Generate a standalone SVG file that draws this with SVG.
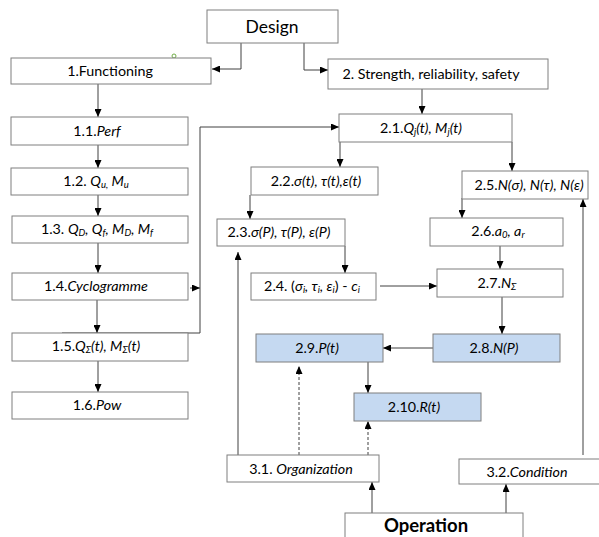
<svg xmlns="http://www.w3.org/2000/svg" width="599" height="537" viewBox="0 0 599 537">
<defs>
<style>
.box{fill:#ffffff;stroke:#7f7f7f;stroke-width:1}
.blue{fill:#c5d9f1;stroke:#7f7f7f;stroke-width:1}
.t{font-family:Lato,"Liberation Sans",sans-serif;font-size:14.3px;fill:#000;text-anchor:middle}
.i{font-style:italic}
.s{font-size:9.5px}
.c{fill:none;stroke:#404040;stroke-width:1}
.d{fill:none;stroke:#404040;stroke-width:1;stroke-dasharray:3,2}
</style>
<marker id="a" markerUnits="userSpaceOnUse" markerWidth="8" markerHeight="7" refX="8" refY="3.5" orient="auto">
<path d="M0,0 L8,3.5 L0,7 z" fill="#000"/>
</marker>
</defs>
<rect width="599" height="537" fill="#ffffff"/>

<g id="connectors">
<path class="c" d="M241,43 V69 H212" marker-end="url(#a)"/>
<path class="c" d="M304,43 V70 H328" marker-end="url(#a)"/>
<path class="c" d="M98,84 V117" marker-end="url(#a)"/>
<path class="c" d="M98,145 V168" marker-end="url(#a)"/>
<path class="c" d="M98,195 V216" marker-end="url(#a)"/>
<path class="c" d="M98,243 V273" marker-end="url(#a)"/>
<path class="c" d="M97,300 V333" marker-end="url(#a)"/>
<path class="c" d="M98,361 V392" marker-end="url(#a)"/>
<path class="c" d="M190,288 H200" marker-end="url(#a)"/>
<path class="c" d="M62,333 H200 V127 H339" marker-end="url(#a)"/>
<path class="c" d="M422,89 V114" marker-end="url(#a)"/>
<path class="c" d="M340,142 V167" marker-end="url(#a)"/>
<path class="c" d="M512,142 V171" marker-end="url(#a)"/>
<path class="c" d="M250,195 V219" marker-end="url(#a)"/>
<path class="c" d="M462,198 V218" marker-end="url(#a)"/>
<path class="c" d="M345,246 V273" marker-end="url(#a)"/>
<path class="c" d="M500,246 V269" marker-end="url(#a)"/>
<path class="c" d="M380,286 H437" marker-end="url(#a)"/>
<path class="c" d="M502,297 V334" marker-end="url(#a)"/>
<path class="c" d="M433,348 H383" marker-end="url(#a)"/>
<path class="c" d="M368,362 V393" marker-end="url(#a)"/>
<path class="c" d="M238,455 V252" marker-end="url(#a)"/>
<path class="d" d="M299,455 V366" marker-end="url(#a)"/>
<path class="d" d="M368,455 V421" marker-end="url(#a)"/>
<path class="c" d="M583,455 V199" marker-end="url(#a)"/>
<path class="c" d="M372,513 V482" marker-end="url(#a)"/>
<path class="c" d="M506,513 V484" marker-end="url(#a)"/>
</g>

<circle cx="174" cy="56" r="2" fill="none" stroke="#70ad47" stroke-width="1"/>

<g id="design"><rect class="box" x="207" y="10" width="131" height="33"/><text class="t" x="272" y="33" style="font-size:17.5px">Design</text></g>
<g id="n1"><rect class="box" x="11" y="58" width="200" height="26"/><text class="t" x="110" y="76">1.Functioning</text></g>
<g id="n2"><rect class="box" x="328" y="59" width="220" height="30"/><text class="t" x="431" y="79">2. Strength, reliability, safety</text></g>
<g id="n11"><rect class="box" x="11" y="117" width="177" height="28"/><text class="t" x="97" y="136">1.1.<tspan class="i">Perf</tspan></text></g>
<g id="n12"><rect class="box" x="11" y="168" width="177" height="27"/><text class="t" x="96" y="186">1.2. <tspan class="i">Q<tspan class="s" dy="2">u,</tspan><tspan dy="-2"> M</tspan><tspan class="s" dy="2">u</tspan></tspan></text></g>
<g id="n13"><rect class="box" x="12" y="216" width="176" height="27"/><text class="t" x="97" y="234">1.3. <tspan class="i">Q<tspan class="s" dy="2">D</tspan><tspan dy="-2">, Q</tspan><tspan class="s" dy="2">f</tspan><tspan dy="-2">, M</tspan><tspan class="s" dy="2">D</tspan><tspan dy="-2">, M</tspan><tspan class="s" dy="2">f</tspan></tspan></text></g>
<g id="n14"><rect class="box" x="12" y="273" width="176" height="27"/><text class="t" x="96" y="291">1.4.<tspan class="i">Cyclogramme</tspan></text></g>
<g id="n15"><rect class="box" x="12" y="333" width="176" height="28"/><text class="t" x="96" y="351">1.5.<tspan class="i">Q<tspan class="s" dy="2">Σ</tspan><tspan dy="-2">(t), M</tspan><tspan class="s" dy="2">Σ</tspan><tspan dy="-2">(t)</tspan></tspan></text></g>
<g id="n16"><rect class="box" x="12" y="392" width="176" height="27"/><text class="t" x="97" y="410">1.6.<tspan class="i">Pow</tspan></text></g>
<g id="n21"><rect class="box" x="339" y="114" width="173" height="28"/><text class="t" x="421" y="133">2.1.<tspan class="i">Q<tspan class="s" dy="2">j</tspan><tspan dy="-2">(t), M</tspan><tspan class="s" dy="2">j</tspan><tspan dy="-2">(t)</tspan></tspan></text></g>
<g id="n22"><rect class="box" x="251" y="167" width="127" height="28"/><text class="t" x="316" y="186">2.2.<tspan class="i">σ(t), τ(t),ε(t)</tspan></text></g>
<g id="n25"><rect class="box" x="462" y="171" width="126" height="28"/><text class="t" x="529" y="190">2.5.<tspan class="i">N(σ), N(τ), N(ε)</tspan></text></g>
<g id="n23"><rect class="box" x="217" y="219" width="128" height="27"/><text class="t" x="279" y="237">2.3.<tspan class="i">σ(P), τ(P), ε(P)</tspan></text></g>
<g id="n26"><rect class="box" x="430" y="218" width="133" height="28"/><text class="t" x="498" y="236">2.6.<tspan class="i">a<tspan class="s" dy="2">0</tspan><tspan dy="-2">, a</tspan><tspan class="s" dy="2">r</tspan></tspan></text></g>
<g id="n24"><rect class="box" x="251" y="273" width="125" height="27"/><text class="t" x="312" y="291">2.4. (<tspan class="i">σ<tspan class="s" dy="2">i</tspan><tspan dy="-2">, τ</tspan><tspan class="s" dy="2">i</tspan><tspan dy="-2">, ε</tspan><tspan class="s" dy="2">i</tspan><tspan dy="-2" style="font-style:normal">) - </tspan>c<tspan class="s" dy="2">i</tspan></tspan></text></g>
<g id="n27"><rect class="box" x="437" y="269" width="126" height="28"/><text class="t" x="497" y="288">2.7.<tspan class="i">N<tspan class="s" dy="2">Σ</tspan></tspan></text></g>
<g id="n28"><rect class="blue" x="433" y="334" width="127" height="28"/><text class="t" x="494" y="353">2.8.<tspan class="i">N(P)</tspan></text></g>
<g id="n29"><rect class="blue" x="256" y="334" width="127" height="28"/><text class="t" x="317" y="353">2.9.<tspan class="i">P(t)</tspan></text></g>
<g id="n210"><rect class="blue" x="354" y="393" width="127" height="28"/><text class="t" x="414" y="412">2.10.<tspan class="i">R(t)</tspan></text></g>
<g id="n31"><rect class="box" x="227" y="455" width="152" height="27"/><text class="t" x="301" y="474">3.1. <tspan class="i">Organization</tspan></text></g>
<g id="n32"><rect class="box" x="459" y="459" width="142" height="25"/><text class="t" x="527" y="477">3.2.<tspan class="i">Condition</tspan></text></g>
<g id="op"><rect class="box" x="345" y="513" width="178" height="30"/><text class="t" x="426" y="532" style="font-size:18.5px;font-weight:bold">Operation</text></g>
</svg>
